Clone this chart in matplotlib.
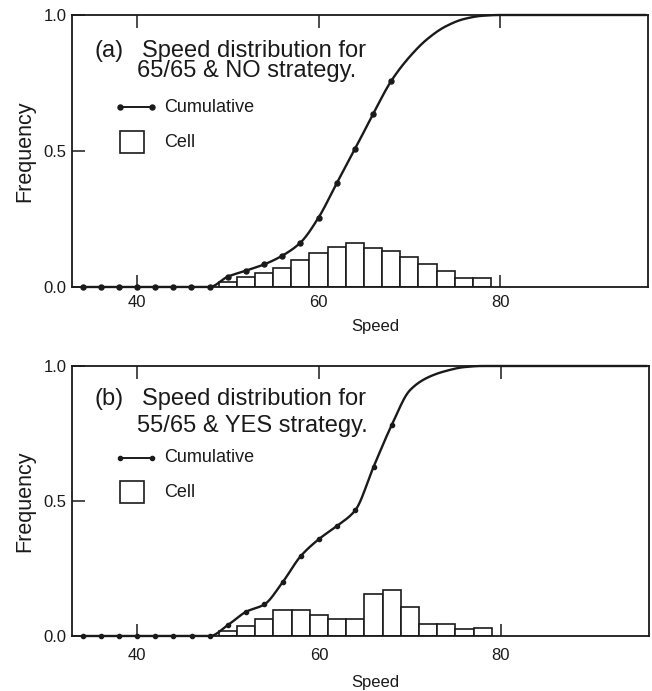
import numpy as np
import matplotlib.pyplot as plt
from matplotlib.patches import Rectangle

plt.rcParams['font.family'] = ['Liberation Sans', 'DejaVu Sans']

# speeds at which the cumulative curve was evaluated (every 2 mph)
speeds = np.arange(34, 98, 2)

# (a) 65/65 & NO strategy
cum_a = [0, 0, 0, 0, 0, 0, 0, 0,
         0.038, 0.060, 0.083, 0.115, 0.163, 0.255, 0.381, 0.506, 0.635, 0.757,
         0.845, 0.912, 0.958, 0.985, 0.997, 1.0,
         1.0, 1.0, 1.0, 1.0, 1.0, 1.0, 1.0, 1.0]
# (b) 55/65 & YES strategy
cum_b = [0, 0, 0, 0, 0, 0, 0, 0,
         0.041, 0.090, 0.117, 0.199, 0.296, 0.359, 0.408, 0.466, 0.626, 0.781,
         0.910, 0.958, 0.982, 0.996, 1.0, 1.0,
         1.0, 1.0, 1.0, 1.0, 1.0, 1.0, 1.0, 1.0]
dot_max = 68  # measured points carry a marker up to here

# histogram cells, 2 mph wide, starting at 49
cell_left = np.arange(49, 79, 2)
cell_a = [0.017, 0.036, 0.050, 0.069, 0.099, 0.124, 0.146, 0.163,
          0.145, 0.132, 0.111, 0.083, 0.060, 0.034, 0.034]
cell_b = [0.019, 0.038, 0.064, 0.096, 0.096, 0.077, 0.063, 0.063,
          0.154, 0.170, 0.107, 0.044, 0.044, 0.027, 0.029]

titles = [("(a)", "Speed distribution for", "65/65 & NO strategy."),
          ("(b)", "Speed distribution for", "55/65 & YES strategy.")]

ink = '#1a1a1a'


def pchip(x, y, xs):
    # monotone cubic through the points so the S-curve stays smooth
    x = np.asarray(x, float)
    y = np.asarray(y, float)
    h = np.diff(x)
    delta = np.diff(y) / h
    d = np.zeros_like(y)
    for k in range(1, len(x) - 1):
        if delta[k - 1] * delta[k] > 0:
            w1 = 2 * h[k] + h[k - 1]
            w2 = h[k] + 2 * h[k - 1]
            d[k] = (w1 + w2) / (w1 / delta[k - 1] + w2 / delta[k])
    d[0] = delta[0]
    d[-1] = delta[-1]
    idx = np.clip(np.searchsorted(x, xs) - 1, 0, len(x) - 2)
    t = (xs - x[idx]) / h[idx]
    h00 = 2 * t**3 - 3 * t**2 + 1
    h10 = t**3 - 2 * t**2 + t
    h01 = -2 * t**3 + 3 * t**2
    h11 = t**3 - t**2
    return (h00 * y[idx] + h10 * h[idx] * d[idx]
            + h01 * y[idx + 1] + h11 * h[idx] * d[idx + 1])


fig = plt.figure(figsize=(6.52, 6.91), dpi=100)
ax1 = fig.add_axes([72 / 652, 1 - 287 / 691, 576 / 652, 272 / 691])
ax2 = fig.add_axes([72 / 652, 1 - 636 / 691, 577 / 652, 270 / 691])

# axes, cumulative, cells, heading, tick pad, heading baselines, marker size
panels = [(ax1, cum_a, cell_a, titles[0], 6, (0.846, 0.772), 3.6, 6),
          (ax2, cum_b, cell_b, titles[1], 9, (0.856, 0.756), 3.0, 8)]

for ax, cum, cell, (tag, line1, line2), xpad, (y1, y2), ms, lpad in panels:
    # histogram cells
    ax.bar(cell_left, cell, width=2, align='edge', color='white',
           edgecolor=ink, linewidth=1.2, zorder=2)

    # smooth cumulative curve plus the measured dots
    xs = np.linspace(speeds[0], speeds[-1], 600)
    ax.plot(xs, pchip(speeds, cum, xs), color=ink, lw=1.7, zorder=3,
            clip_on=False)
    sp = np.array(speeds)
    cv = np.array(cum)
    m = sp <= dot_max
    ax.plot(sp[m], cv[m], 'o', color=ink, ms=ms, zorder=4, clip_on=False)

    ax.set_xlim(32.84, 96.3)
    ax.set_ylim(0, 1.0)
    ax.set_xticks([40, 60, 80])
    ax.set_yticks([0.0, 0.5, 1.0])
    ax.set_yticklabels(['0.0', '0.5', '1.0'])
    ax.tick_params(axis='x', direction='in', length=9, width=1.1,
                   top=True, pad=xpad, labelsize=12, colors=ink)
    ax.tick_params(axis='y', direction='in', length=9, width=1.1,
                   pad=4, labelsize=12, colors=ink)
    for s in ax.spines.values():
        s.set_linewidth(1.3)
        s.set_color(ink)
    ax.set_xlabel('Speed', fontsize=12, color=ink, labelpad=lpad, x=0.526)
    ax.set_ylabel('Frequency', fontsize=15.5, color=ink, labelpad=6)

    # panel heading
    ax.text(35.3, y1, tag, fontsize=17, color=ink, va='baseline')
    ax.text(40.5, y1, line1, fontsize=17, color=ink, va='baseline')
    ax.text(40.0, y2, line2, fontsize=17, color=ink, va='baseline')

    # key
    ax.plot([38.1, 41.6], [0.660, 0.660], '-o', color=ink, lw=1.4, ms=ms)
    ax.text(43.0, 0.660, 'Cumulative', fontsize=13, color=ink,
            va='center')
    ax.add_patch(Rectangle((38.1, 0.493), 2.7, 0.082, facecolor='white',
                           edgecolor=ink, lw=1.2))
    ax.text(43.0, 0.533, 'Cell', fontsize=13, color=ink, va='center')

fig.savefig('out.png', dpi=100)
